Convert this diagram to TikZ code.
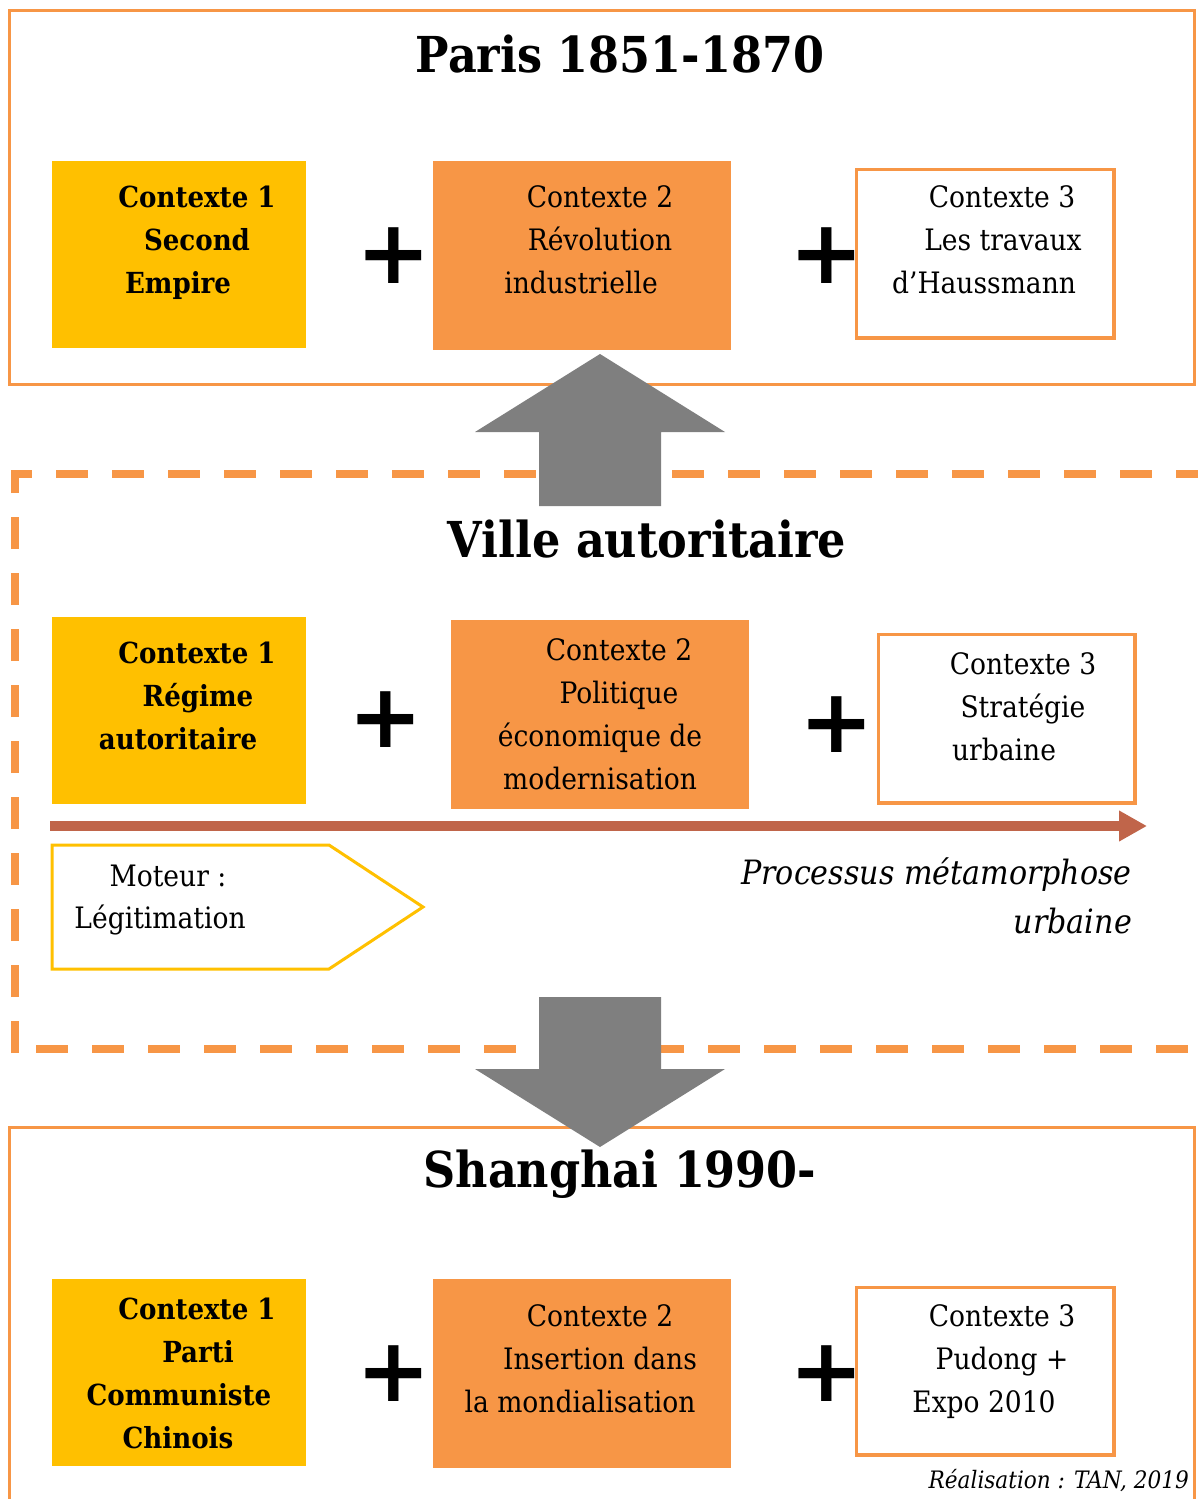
\documentclass[tikz,border=0pt]{standalone}
\usepackage{fontspec}
\setmainfont{DejaVu Serif Condensed}
\newfontfamily\plusfont{DejaVu Sans}
\usetikzlibrary{arrows.meta}
\definecolor{corange}{HTML}{F79646}
\definecolor{cyellow}{HTML}{FFC000}
\definecolor{cbrown}{HTML}{C0654A}
\definecolor{cgray}{HTML}{7F7F7F}
\begin{document}
\begin{tikzpicture}[x=1pt,y=-1pt,
  title/.style={font=\fontsize{49.5}{56}\selectfont\bfseries, anchor=base, inner sep=0pt},
  txt/.style={font=\fontsize{29.5}{36}\selectfont, anchor=base, inner sep=0pt},
  btxt/.style={font=\fontsize{29}{36}\selectfont\bfseries, anchor=base, inner sep=0pt},
  itxt/.style={font=\fontsize{33.5}{36}\selectfont\itshape, anchor=base east, inner sep=0pt},
  stxt/.style={font=\fontsize{24}{30}\selectfont\itshape, anchor=base east, inner sep=0pt},
  plussign/.style={font=\plusfont\bfseries\fontsize{89}{90}\selectfont, inner sep=0pt},
  ybox/.style={fill=cyellow, draw=none, anchor=north west, inner sep=0pt},
  obox/.style={fill=corange, draw=none, anchor=north west, inner sep=0pt},
  wbox/.style={fill=white, draw=corange, line width=3.5pt, anchor=north west, inner sep=0pt},
  frame/.style={draw=corange, line width=3pt},
  dashframe/.style={draw=corange, line width=8pt, dash pattern=on 32pt off 24pt},
  bigarrow/.style={fill=cgray, draw=none},
]
\useasboundingbox (0,0) rectangle (1198,1499);

% frames
\draw[frame] (9.5,10.5) rectangle (1194.5,384.5);
\draw[frame] (9.5,1505) -- (9.5,1127.5) -- (1194.5,1127.5) -- (1194.5,1505);
\draw[dashframe, dash phase=11pt] (11,474) -- (1198,474);
\draw[dashframe, dash phase=0pt] (15,1053) -- (15,470);
\draw[dashframe, dash phase=35pt] (15,1049) -- (1198,1049);

% big gray arrows
\fill[bigarrow] (600,354) -- (725,432) -- (661,432) -- (661,506) -- (539,506) -- (539,432) -- (475,432) -- cycle;
\fill[bigarrow] (539,997) -- (661,997) -- (661,1069) -- (725,1069) -- (600,1147) -- (475,1069) -- (539,1069) -- cycle;

% titles
\node[title] (t1) at (620,72) {Paris 1851-1870};
\node[title] (t2) at (647,557) {Ville autoritaire};
\node[title] (t3) at (620,1187) {Shanghai 1990-};

% row 1
\node[ybox, minimum width=254pt, minimum height=187pt] (a1) at (52,161) {};
\node[obox, minimum width=298pt, minimum height=189pt] (a2) at (433,161) {};
\node[wbox, minimum width=257.5pt, minimum height=168.5pt] (a3) at (854.75,167.75) {};
\node[btxt] (a1l1) at (197,207) {Contexte 1};
\node[btxt] (a1l2) at (197,250) {Second};
\node[btxt] (a1l3) at (178,293) {Empire};
\node[txt] (a2l1) at (600,207) {Contexte 2};
\node[txt] (a2l2) at (600,250) {Révolution};
\node[txt] (a2l3) at (581,293) {industrielle};
\node[txt] (a3l1) at (1002,207) {Contexte 3};
\node[txt] (a3l2) at (1003,250) {Les travaux};
\node[txt] (a3l3) at (984,293) {d’Haussmann};
\node[plussign] (ap1) at (394,256) {+};
\node[plussign] (ap2) at (827,256) {+};

% row 2
\node[ybox, minimum width=254pt, minimum height=187pt] (b1) at (52,617) {};
\node[obox, minimum width=298pt, minimum height=189pt] (b2) at (451,620) {};
\node[wbox, minimum width=256.5pt, minimum height=168.5pt] (b3) at (876.75,632.75) {};
\node[btxt] (b1l1) at (197,663) {Contexte 1};
\node[btxt] (b1l2) at (198,706) {Régime};
\node[btxt] (b1l3) at (178,749) {autoritaire};
\node[txt] (b2l1) at (619,660) {Contexte 2};
\node[txt] (b2l2) at (619,703) {Politique};
\node[txt] (b2l3) at (600,746) {économique de};
\node[txt] (b2l4) at (600,789) {modernisation};
\node[txt] (b3l1) at (1023,674) {Contexte 3};
\node[txt] (b3l2) at (1023,717) {Stratégie};
\node[txt] (b3l3) at (1004,760) {urbaine};
\node[plussign] (bp1) at (386,720) {+};
\node[plussign] (bp2) at (837,725) {+};

% process arrow
\coordinate (ps) at (50,826);
\coordinate (pe) at (1147,826);
\draw[cbrown, line width=10pt, -{Triangle[length=28pt,width=29pt]}] (ps) -- (pe);
\node[itxt] (pr1) at (1132,884) {Processus métamorphose};
\node[itxt] (pr2) at (1132,933) {urbaine};

% moteur
\draw[cyellow, line width=3pt, line join=miter] (52,845) -- (329,845) -- (423,907) -- (329,969) -- (52,969) -- cycle;
\node[txt] (m1) at (168,886) {Moteur :};
\node[txt] (m2) at (160,928) {Légitimation};

% row 3
\node[ybox, minimum width=254pt, minimum height=187pt] (c1) at (52,1279) {};
\node[obox, minimum width=298pt, minimum height=189pt] (c2) at (433,1279) {};
\node[wbox, minimum width=257.5pt, minimum height=167.5pt] (c3) at (854.75,1285.75) {};
\node[btxt] (c1l1) at (197,1319) {Contexte 1};
\node[btxt] (c1l2) at (198,1362) {Parti};
\node[btxt] (c1l3) at (179,1405) {Communiste};
\node[btxt] (c1l4) at (178,1448) {Chinois};
\node[txt] (c2l1) at (600,1326) {Contexte 2};
\node[txt] (c2l2) at (600,1369) {Insertion dans};
\node[txt] (c2l3) at (580,1412) {la mondialisation};
\node[txt] (c3l1) at (1002,1326) {Contexte 3};
\node[txt] (c3l2) at (1002,1369) {Pudong +};
\node[txt] (c3l3) at (984,1412) {Expo 2010};
\node[plussign] (cp1) at (394,1374) {+};
\node[plussign] (cp2) at (827,1374) {+};

\node[stxt] (real) at (1189,1488) {Réalisation : TAN, 2019};
\end{tikzpicture}
\end{document}
